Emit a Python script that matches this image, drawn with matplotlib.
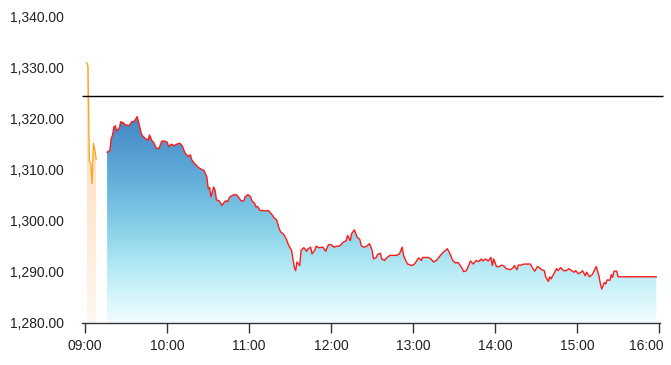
import numpy as np
import matplotlib
matplotlib.use("Agg")
from matplotlib import pyplot as plt
from matplotlib.colors import LinearSegmentedColormap
import matplotlib.transforms as mtransforms

plt.rcParams['font.family'] = ['Liberation Sans', 'DejaVu Sans']

# pre-open session, minutes after 09:00
pre_t = [1, 2, 3, 4, 5, 6, 7, 8]
pre_v = [1331.0, 1330.3, 1311.6, 1311.3, 1307.3, 1315.2, 1313.9, 1312.1]

# regular session, minutes after 09:00
t_min = [16, 18, 19, 20, 21, 22, 23, 25, 26, 28, 29, 30, 32, 34, 36, 38, 39, 41, 42, 44,
         46, 47, 49, 50, 52, 54, 56, 58, 60, 61, 63, 65, 67, 69, 71, 73, 75, 77, 78, 80,
         83, 85, 87, 89, 90, 91, 92, 94, 95, 96, 98, 100, 102, 103, 104, 106, 108, 110, 111, 113,
         114, 116, 117, 119, 121, 122, 124, 125, 126, 128, 130, 132, 134, 135, 137, 138, 140, 142, 143, 145,
         147, 149, 151, 152, 153, 154, 155, 157, 158, 160, 162, 163, 165, 166, 168, 169, 171, 174, 176, 178,
         180, 182, 184, 186, 189, 191, 192, 194, 195, 197, 199, 201, 202, 204, 206, 208, 210, 211, 213, 214,
         216, 217, 219, 221, 223, 225, 228, 230, 232, 233, 235, 236, 239, 241, 244, 246, 247, 249, 251, 253,
         255, 257, 260, 262, 265, 267, 269, 271, 273, 276, 277, 279, 281, 282, 284, 286, 288, 290, 291, 293,
         295, 297, 298, 299, 301, 303, 305, 307, 308, 311, 313, 314, 316, 317, 319, 321, 324, 326, 327, 329,
         331, 332, 334, 336, 337, 339, 340, 341, 343, 345, 346, 348, 350, 352, 354, 356, 358, 359, 361, 363,
         364, 366, 367, 369, 371, 372, 374, 376, 377, 378, 380, 381, 382, 384, 385, 386, 387, 389, 390, 418]
price = [1313.4, 1313.8, 1316.1, 1316.8, 1318.4, 1318.6, 1317.6, 1318.2, 1319.4, 1319.2, 1318.8, 1318.8, 1318.6, 1319.4, 1319.5, 1320.4, 1319.4, 1317.1, 1316.6, 1316.1,
         1315.8, 1316.8, 1315.6, 1315.4, 1314.2, 1314.2, 1315.6, 1315.6, 1315.4, 1314.5, 1315.0, 1314.7, 1315.0, 1315.2, 1314.7, 1313.3, 1312.6, 1312.9, 1311.9, 1311.2,
         1310.4, 1310.1, 1309.8, 1308.6, 1306.3, 1306.5, 1304.7, 1306.6, 1306.0, 1304.1, 1303.9, 1303.0, 1303.7, 1303.9, 1303.7, 1304.7, 1305.0, 1305.1, 1305.0, 1304.3,
         1303.9, 1303.9, 1304.7, 1305.1, 1304.7, 1303.9, 1303.4, 1302.7, 1302.8, 1302.0, 1302.0, 1301.9, 1302.0, 1301.7, 1301.1, 1300.6, 1300.2, 1298.4, 1297.8, 1297.4,
         1296.5, 1295.1, 1294.2, 1292.5, 1290.9, 1290.2, 1291.9, 1291.2, 1294.2, 1294.7, 1294.0, 1294.5, 1294.8, 1293.5, 1294.2, 1295.0, 1294.7, 1294.8, 1294.0, 1295.3,
         1295.3, 1294.8, 1295.0, 1295.0, 1295.8, 1296.1, 1297.1, 1296.1, 1297.5, 1298.2, 1296.8, 1296.3, 1295.1, 1294.8, 1295.0, 1295.5, 1294.2, 1292.5, 1292.8, 1293.4,
         1293.6, 1292.5, 1292.2, 1292.8, 1293.2, 1293.2, 1293.2, 1293.5, 1294.8, 1293.2, 1291.9, 1291.5, 1291.2, 1291.5, 1292.7, 1292.2, 1292.8, 1292.8, 1292.8, 1292.5,
         1291.9, 1292.2, 1293.2, 1293.8, 1294.5, 1293.5, 1292.2, 1291.7, 1291.8, 1290.6, 1290.0, 1290.2, 1291.5, 1292.1, 1291.5, 1292.2, 1292.0, 1292.5, 1292.1, 1292.5,
         1292.1, 1292.8, 1291.2, 1292.5, 1291.0, 1291.0, 1291.3, 1291.0, 1290.6, 1290.4, 1290.7, 1291.2, 1290.4, 1291.3, 1291.3, 1291.5, 1291.5, 1291.5, 1290.9, 1290.1,
         1291.0, 1290.9, 1290.4, 1290.2, 1289.0, 1288.1, 1289.0, 1288.6, 1289.6, 1290.6, 1290.2, 1290.8, 1290.2, 1290.2, 1290.6, 1290.2, 1289.9, 1290.2, 1289.6, 1289.9,
         1290.2, 1289.2, 1289.9, 1289.0, 1289.4, 1289.9, 1291.0, 1289.2, 1287.7, 1286.6, 1287.9, 1287.6, 1288.4, 1288.3, 1289.4, 1288.9, 1290.1, 1290.1, 1289.0, 1289.0]

prev_close = 1324.45
x_ticks = [0, 60, 120, 180, 240, 300, 360, 420]
x_labels = ["09:00", "10:00", "11:00", "12:00", "13:00", "14:00", "15:00", "16:00"]
y_ticks = [1280, 1290, 1300, 1310, 1320, 1330, 1340]


def grad_fill(ax, x, y, colors, base, top):
    # area under the line, painted with a vertical gradient clipped to it
    poly = ax.fill_between(x, y, base, facecolor='none', edgecolor='none')
    cmap = LinearSegmentedColormap.from_list('g', colors)
    grad = np.linspace(1, 0, 256).reshape(-1, 1)
    im = ax.imshow(grad, cmap=cmap, aspect='auto', origin='upper',
                   extent=[min(x), max(x), base, top], zorder=1)
    im.set_clip_path(poly.get_paths()[0], transform=ax.transData)


fig = plt.figure(figsize=(6.71, 3.65), dpi=100)
ax = fig.add_axes([81.7 / 671, 42.3 / 365, (660 - 81.7) / 671, 306 / 365])

grad_fill(ax, pre_t, pre_v, ['#fff7ef', '#fde6cc', '#fcdcb8'], 1280, max(pre_v))
grad_fill(ax, t_min, price, ['#f2fdff', '#b8ecf6', '#80cbe6', '#5ca7d6', '#4586c4'], 1280, max(price))

ax.plot(pre_t, pre_v, color='#f9a825', lw=1.0, zorder=3)
ax.plot(t_min, price, color='#ff1a1a', lw=1.0, zorder=3)
ax.hlines(prev_close, -2.6, 423, color='black', lw=1.0, zorder=4, clip_on=False)

ax.set_xlim(-2.6, 420.7)
ax.set_ylim(1280, 1340)
ax.set_xticks(x_ticks)
ax.set_xticklabels(x_labels)
ax.set_yticks(y_ticks)
ax.set_yticklabels(["{:,.2f}".format(v) for v in y_ticks])

for s in ['top', 'right', 'left']:
    ax.spines[s].set_visible(False)
ax.spines['bottom'].set_color('#333333')
ax.spines['bottom'].set_linewidth(1.0)
ax.tick_params(axis='x', length=7, width=1, color='#333333', labelsize=10, labelcolor='#222222', pad=4.5)
ax.tick_params(axis='y', length=0, labelsize=10, labelcolor='#222222', pad=13)

# keep the last time label inside the picture
last = ax.get_xticklabels()[-1]
last.set_horizontalalignment('right')
last.set_transform(last.get_transform() + mtransforms.ScaledTranslation(3 / 72, 0, fig.dpi_scale_trans))

fig.savefig("out.png", dpi=100)
